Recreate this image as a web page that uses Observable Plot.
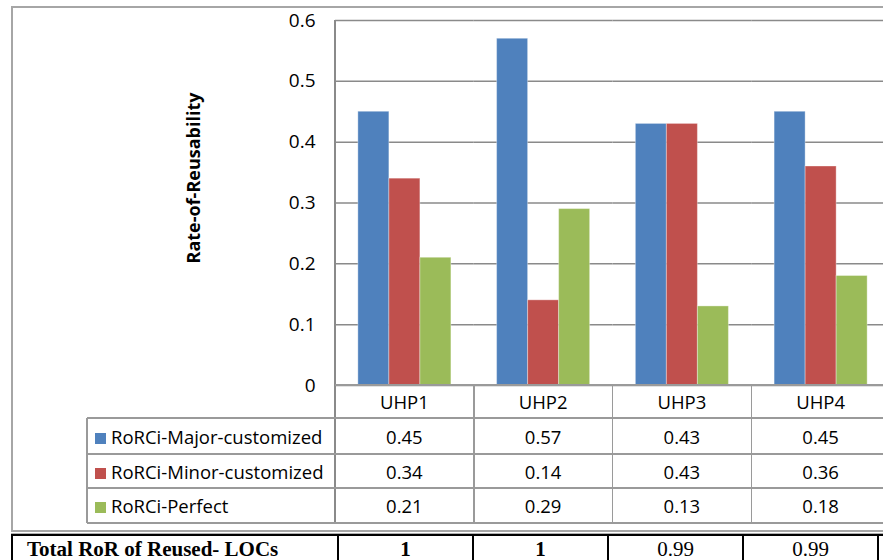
<!DOCTYPE html>
<html><head><meta charset="utf-8">
<script src="https://cdn.jsdelivr.net/npm/d3@7"></script>
<script src="https://cdn.jsdelivr.net/npm/@observablehq/plot@0.6"></script>
<style>
html,body{margin:0;padding:0;background:#fff;overflow:hidden;}
#root{position:relative;width:883px;height:560px;overflow:hidden;font-family:"Open Sans",sans-serif;color:#000;}
.abs{position:absolute;box-sizing:border-box;}
.cell{position:absolute;box-sizing:border-box;display:flex;align-items:center;justify-content:center;font-size:18.5px;white-space:nowrap;}
</style></head><body><div id="root"></div>
<script>
const categories = ["UHP1", "UHP2", "UHP3", "UHP4"];
const seriesNames = ["RoRCi-Major-customized", "RoRCi-Minor-customized", "RoRCi-Perfect"];
const major = [0.45, 0.57, 0.43, 0.45];
const minor = [0.34, 0.14, 0.43, 0.36];
const perfect = [0.21, 0.29, 0.13, 0.18];
const colors = ["#4F81BD", "#C0504D", "#9BBB59"];
const yTicks = [0, 0.1, 0.2, 0.3, 0.4, 0.5, 0.6];
const yLabel = "Rate-of-Reusability";
const totalLabel = "Total RoR of Reused- LOCs";
const totals = ["1", "1", "0.99", "0.99"];
const totalsBold = [true, true, false, false];

const seriesValues = [major, minor, perfect];
const data = [];
categories.forEach((c, i) => seriesNames.forEach((s, j) => data.push({cat: c, series: s, value: seriesValues[j][i]})));

const root = document.getElementById("root");
const L = 335, T = 20, B = 385, W = 900, R = 10, H = B + 5;
const band = (W - L - R) / categories.length;
const gridColor = "#8a8a8a";

// outer chart border
const outer = document.createElement("div");
outer.className = "abs";
Object.assign(outer.style, {left: "11px", top: "6px", width: "920px", height: "526px", border: "2px solid #a6a6a6"});
root.appendChild(outer);

const plot = Plot.plot({
  width: W, height: H,
  marginLeft: L, marginRight: R, marginTop: T, marginBottom: H - B,
  style: {fontFamily: "'Open Sans', sans-serif", fontSize: "19px", color: "#000", background: "transparent", overflow: "visible"},
  fx: {domain: categories, padding: 0, axis: null, round: false},
  x: {domain: seriesNames, paddingInner: 0, paddingOuter: 0.737, axis: null, round: false},
  y: {domain: [0, 0.6], axis: null},
  color: {domain: seriesNames, range: colors},
  marks: [
    Plot.gridY(yTicks, {stroke: gridColor, strokeOpacity: 1, strokeWidth: 1.5}),
    Plot.barY(data, {fx: "cat", x: "series", y: "value", fill: "series", stroke: "#fff", strokeOpacity: 0.35, strokeWidth: 1}),
    Plot.axisY(yTicks, {tickSize: 0, tickPadding: 20, tickFormat: d => d === 0 ? "0" : d.toFixed(1), label: null, fontSize: 19})
  ]
});
plot.style.position = "absolute";
plot.style.left = "0px";
plot.style.top = "0px";
plot.style.maxWidth = "none";
plot.setAttribute("width", W);
plot.setAttribute("height", H);
plot.style.width = W + "px";
plot.style.height = H + "px";
root.appendChild(plot);

// y label
const yl = document.createElement("div");
yl.className = "abs";
yl.textContent = yLabel;
Object.assign(yl.style, {left: "193px", top: "178px", transform: "translate(-50%,-50%) rotate(-90deg)", fontWeight: "bold", fontSize: "18px", whiteSpace: "nowrap"});
root.appendChild(yl);

// left frame line
const vl = document.createElement("div");
vl.className = "abs";
Object.assign(vl.style, {left: (L - 1) + "px", top: T + "px", width: "1.5px", height: (523 - T) + "px", background: gridColor});
root.appendChild(vl);

// data table
const rowTops = [B, 418, 454, 488, 523];
const lineColor = "#9a9a9a";
function hline(x, y, w, c, t) {
  const d = document.createElement("div"); d.className = "abs";
  Object.assign(d.style, {left: x + "px", top: (y - t / 2) + "px", width: w + "px", height: t + "px", background: c});
  root.appendChild(d);
}
function vline(x, y, h, c, t) {
  const d = document.createElement("div"); d.className = "abs";
  Object.assign(d.style, {left: (x - t / 2) + "px", top: y + "px", width: t + "px", height: h + "px", background: c});
  root.appendChild(d);
}
function cell(x, y, w, h, text, extra) {
  const d = document.createElement("div"); d.className = "cell";
  Object.assign(d.style, {left: x + "px", top: y + "px", width: w + "px", height: h + "px"}, extra || {});
  if (typeof text === "string") d.textContent = text; else d.appendChild(text);
  root.appendChild(d);
  return d;
}
const legX = 87;
categories.forEach((c, i) => cell(L + i * band, rowTops[0], band, rowTops[1] - rowTops[0], c));
seriesNames.forEach((s, j) => {
  const y0 = rowTops[j + 1], h = rowTops[j + 2] - y0;
  const span = document.createElement("span");
  span.innerHTML = `<span style="display:inline-block;width:11px;height:11px;background:${colors[j]};margin-right:5px;vertical-align:0px"></span>${s}`;
  cell(legX, y0, L - legX, h, span, {justifyContent: "flex-start", paddingLeft: "8px"});
  categories.forEach((c, i) => cell(L + i * band, y0, band, h, seriesValues[j][i].toFixed(2)));
});
hline(L, rowTops[0], W, lineColor, 1.5);
for (let k = 1; k < rowTops.length; k++) hline(legX, rowTops[k], W, lineColor, 1.5);
vline(legX, rowTops[1], rowTops[4] - rowTops[1], lineColor, 1.5);
for (let i = 1; i <= categories.length; i++) vline(L + i * band, rowTops[0], rowTops[4] - rowTops[0], lineColor, 1.5);

hline(11, 533.5, 920, "#b0b0b0", 1);

// bottom totals table
const tTop = 535, tCol0 = 11, tCol1 = 338, tW = 135;
hline(tCol0, tTop, 920, "#000", 2);
vline(tCol0 + 1, tTop, 40, "#000", 2);
for (let i = 0; i <= totals.length; i++) vline(tCol1 + i * tW, tTop, 40, "#000", 2);
cell(tCol0, tTop, tCol1 - tCol0, 29, totalLabel, {justifyContent: "flex-start", paddingLeft: "16px", fontWeight: "bold", fontFamily: "'Liberation Serif', serif", fontSize: "21px"});
totals.forEach((t, i) => cell(tCol1 + i * tW, tTop, tW, 29, t, {fontWeight: totalsBold[i] ? "bold" : "normal", fontFamily: "'Liberation Serif', serif", fontSize: "21px"}));
</script></body></html>
